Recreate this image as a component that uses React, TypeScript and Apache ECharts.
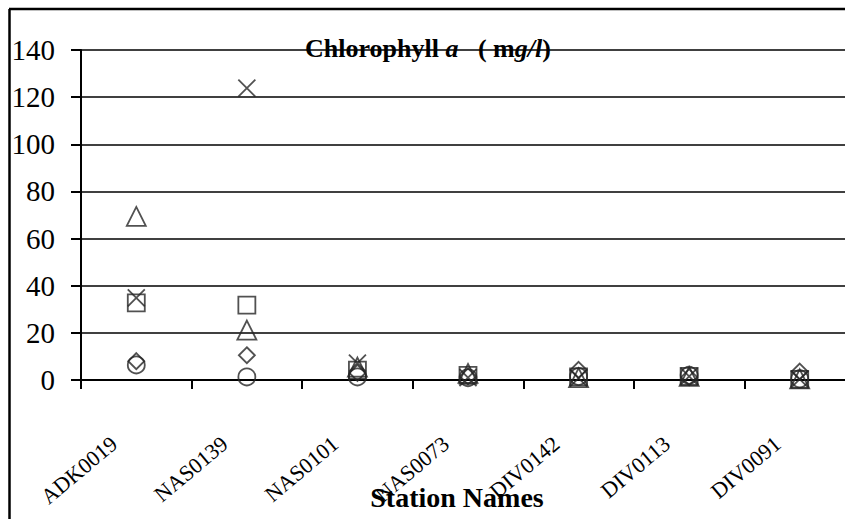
import React, { useEffect, useRef } from "react";
import * as echarts from "echarts";

const stations = ["ADK0019", "NAS0139", "NAS0101", "NAS0073", "DIV0142", "DIV0113", "DIV0091"];
const yTicks = [0, 20, 40, 60, 80, 100, 120, 140];

// Five sampling series (marker shape per series)
const diamondVals = [8, 10.5, 3, 1.5, 4.3, 1.2, 3.6];
const squareVals = [32.7, 31.8, 4.2, 2, 1.3, 1.5, 0.3];
const triangleVals = [69.4, 21.2, 5.5, 2.8, 1, 1.5, 0.5];
const crossVals = [34.8, 123.8, 7.2, 1, 0.8, 1.5, 0.4];
const circleVals = [6.4, 1.3, 1.3, 1, 1.5, 2, 0.5];

const X_PATH = "path://M0,0L10,10M10,0L0,10";
const SERIF = "'Liberation Serif', 'Times New Roman', serif";

export default function App() {
  const ref = useRef<HTMLDivElement>(null);
  useEffect(() => {
    if (!ref.current) return;
    const chart = echarts.init(ref.current, null, { renderer: "svg" });
    const markerStyle = {
      color: "rgba(0,0,0,0)",
      borderColor: "#262626",
      borderWidth: 1.8,
    };
    const mk = (name: string, data: number[], symbol: string, size: number) => ({
      name,
      type: "scatter",
      data,
      symbol,
      symbolSize: size,
      itemStyle: markerStyle,
      emphasis: { disabled: true },
    });
    chart.setOption({
      animation: false,
      backgroundColor: "#fff",
      textStyle: { fontFamily: SERIF },
      title: {
        text: "{b|Chlorophyll }{bi|a}{b|   ( m}{bi|g/l}{b|)}",
        left: 300,
        top: 30,
        textStyle: {
          rich: {
            b: { fontFamily: SERIF, fontWeight: "bold", fontSize: 26, color: "#000" },
            bi: { fontFamily: SERIF, fontWeight: "bold", fontStyle: "italic", fontSize: 26, color: "#000" },
          },
        },
      },
      graphic: [
        {
          type: "line",
          shape: { x1: 9, y1: 9, x2: 845, y2: 9 },
          style: { stroke: "#000", lineWidth: 2.5 },
          silent: true,
          z: 100,
        },
        {
          type: "line",
          shape: { x1: 9.5, y1: 9, x2: 9.5, y2: 519 },
          style: { stroke: "#000", lineWidth: 2.5 },
          silent: true,
          z: 100,
        },
      ],
      grid: { left: 81, right: -10, top: 50, bottom: 139, outerBoundsMode: "none", containLabel: false },
      xAxis: {
        type: "category",
        data: stations,
        boundaryGap: true,
        axisLine: { show: true, lineStyle: { color: "#000", width: 2 } },
        axisTick: { show: true, length: 9, lineStyle: { color: "#000", width: 2 } },
        axisLabel: {
          rotate: 40,
          interval: 0,
          margin: 42,
          color: "#000",
          formatter: (v: string) => `{t|${v}}{s|\u00a0}`,
          rich: {
            t: { fontFamily: SERIF, fontSize: 22, color: "#000" },
            s: { width: 29, fontSize: 22 },
          },
        },
        name: "Station Names",
        nameLocation: "middle",
        nameGap: 103,
        nameMoveOverlap: false,
        nameTextStyle: {
          fontFamily: SERIF,
          fontWeight: "bold",
          fontSize: 28,
          color: "#000",
          padding: [0, 22, 0, 0],
        },
        splitLine: { show: false },
      },
      yAxis: {
        type: "value",
        min: 0,
        max: 140,
        interval: 20,
        axisLine: { show: true, lineStyle: { color: "#000", width: 2 } },
        axisTick: { show: true, length: 10, lineStyle: { color: "#000", width: 2 } },
        axisLabel: {
          margin: 26,
          fontFamily: SERIF,
          fontSize: 29,
          color: "#000",
          formatter: (v: number) => (yTicks.includes(v) ? String(v) : ""),
        },
        splitLine: { show: true, lineStyle: { color: "#000", width: 1.5 } },
      },
      series: [
        mk("Diamond", diamondVals, "diamond", 16),
        mk("Square", squareVals, "rect", 17),
        mk("Triangle", triangleVals, "triangle", 19),
        mk("Cross", crossVals, X_PATH, 17),
        mk("Circle", circleVals, "circle", 17),
      ],
    });
    return () => chart.dispose();
  }, []);
  return (
    <div
      ref={ref}
      style={{ position: "fixed", left: 0, top: 0, width: 845, height: 519, overflow: "hidden" }}
    />
  );
}
